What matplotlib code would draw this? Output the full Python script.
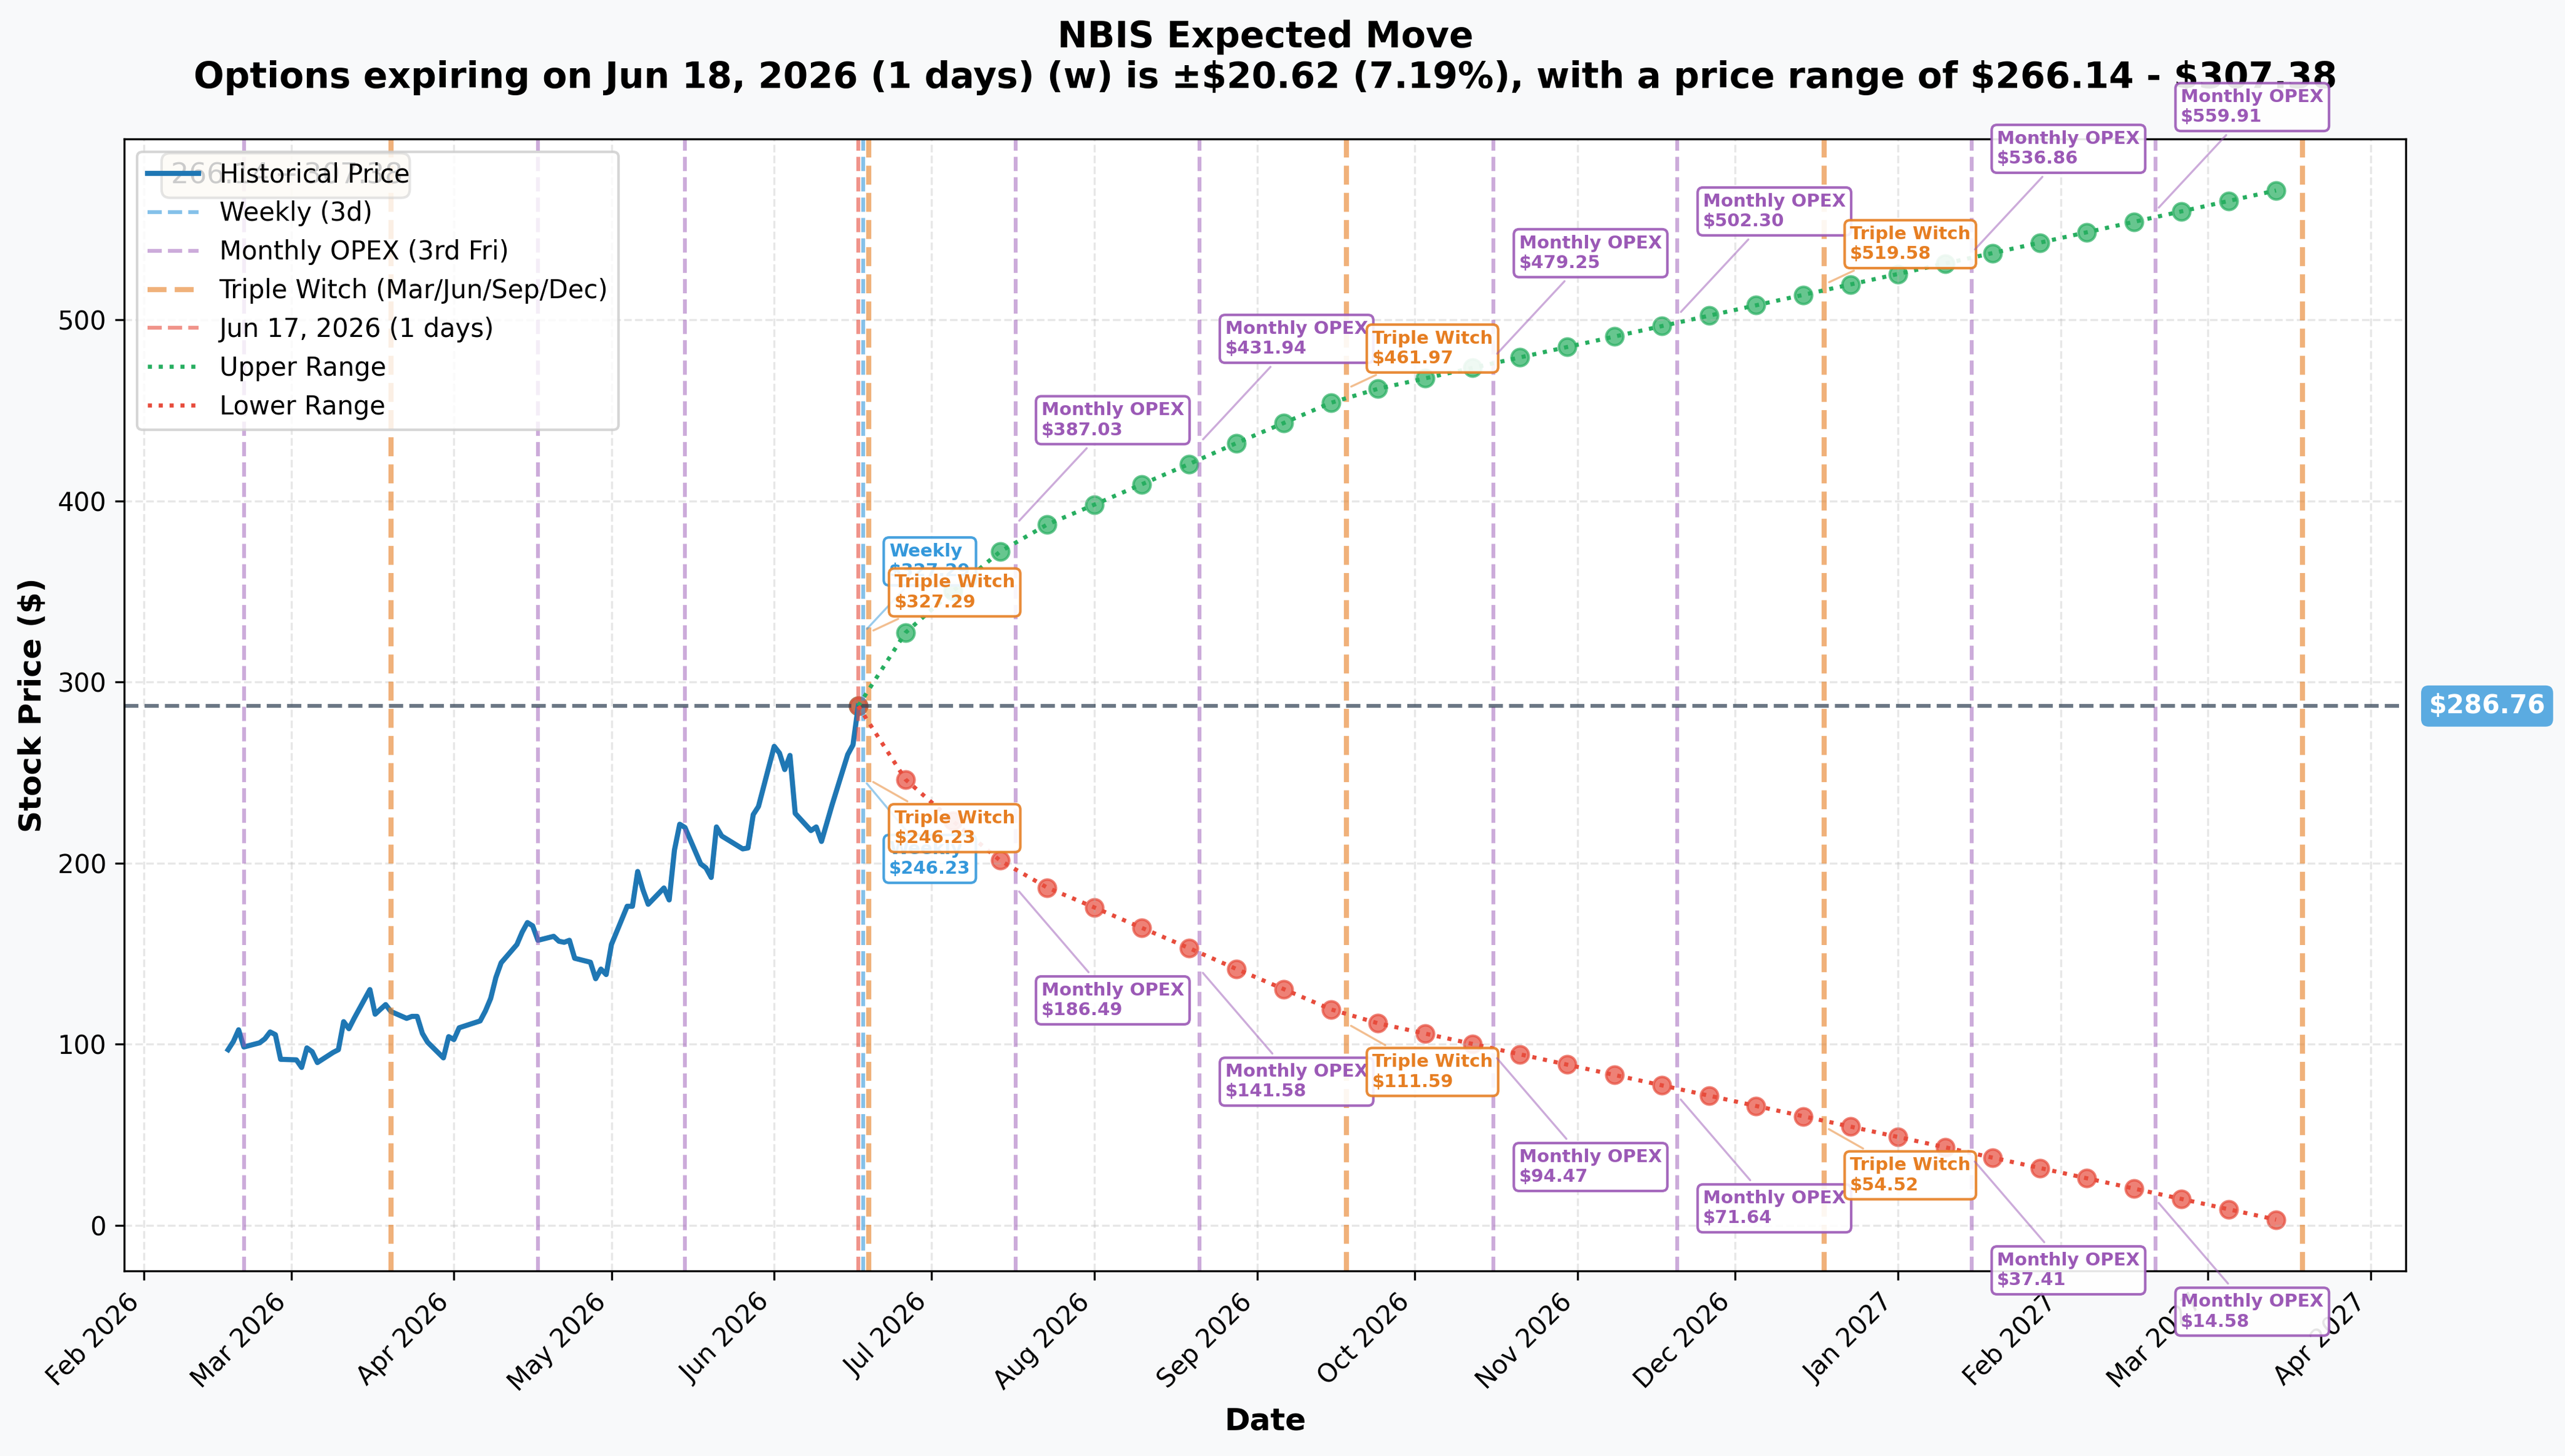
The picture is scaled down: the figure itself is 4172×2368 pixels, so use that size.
import pandas as pd
import matplotlib
matplotlib.use("Agg")
import matplotlib.pyplot as plt
import matplotlib.dates as mdates

TICKER = "NBIS"
CURRENT_PRICE = 286.76
CURRENT_DATE = "2026-06-17"

# ---------------------------------------------------------------------------
# Historical closes (one per trading day, Feb 17 - Jun 17, 2026)
# ---------------------------------------------------------------------------
hist_start, hist_end = "2026-02-17", "2026-06-17"
market_holidays = ["2026-04-03", "2026-05-25"]
hist_close = [
    97.0, 101.5, 108.0, 98.5, 100.8, 103.0, 106.8, 105.3, 91.7,
    91.4, 87.2, 98.0, 95.9, 89.9, 95.5, 97.0, 112.5, 108.6, 114.3, 130.2,
    116.6, 119.3, 121.9, 118.1, 114.3, 115.4, 115.4, 106.0, 101.1, 92.5, 104.2,
    102.6, 109.1, 112.9, 118.4, 125.3, 136.9, 145.0, 155.1, 161.9, 167.2,
    165.4, 157.4, 159.6, 156.9, 156.3, 157.4, 147.5, 145.3, 136.2, 141.5, 138.5,
    155.1, 176.2, 176.2, 195.4, 185.3, 177.3, 186.3, 179.7, 207.2, 221.5,
    219.7, 199.6, 197.4, 192.1, 220.0, 215.0, 207.9, 208.4, 226.8, 231.3,
    264.5, 260.8, 251.7, 259.5, 227.5, 218.0, 220.0, 212.0, 222.0, 232.0,
    260.0, 265.3, 286.76,
]

# ---------------------------------------------------------------------------
# Expected-move projection, every 9 calendar days from today
# ---------------------------------------------------------------------------
proj_step_days = 9
proj_upper = [
    286.76, 327.29, 350.2, 372.0, 387.03, 398.0, 409.2, 420.4, 431.94, 443.0,
    454.2, 461.97, 467.73, 473.49, 479.25, 485.01, 490.77, 496.54, 502.30,
    508.06, 513.82, 519.58, 525.34, 531.10, 536.86, 542.62, 548.38, 554.15,
    559.91, 565.67, 571.43,
]
proj_lower = [
    286.76, 246.23, 223.3, 201.5, 186.49, 175.5, 164.3, 153.1, 141.58, 130.5,
    119.3, 111.59, 105.88, 100.18, 94.47, 88.76, 83.06, 77.35, 71.64,
    65.93, 60.23, 54.52, 48.81, 43.11, 37.41, 31.70, 25.99, 20.29,
    14.58, 8.87, 3.17,
]

# ---------------------------------------------------------------------------
# Expiration calendar
# ---------------------------------------------------------------------------
weekly_dates = ["2026-06-18"]
opex_dates = ["2026-02-20", "2026-04-17", "2026-05-15", "2026-07-17", "2026-08-21",
              "2026-10-16", "2026-11-20", "2027-01-15", "2027-02-19"]
witch_dates = ["2026-03-20", "2026-06-19", "2026-09-18", "2026-12-18", "2027-03-19"]

ann_dates = ["2026-06-18", "2026-06-19", "2026-07-17", "2026-08-21", "2026-09-18",
             "2026-10-16", "2026-11-20", "2026-12-18", "2027-01-15", "2027-02-19"]
ann_kind = ["Weekly", "Triple Witch", "Monthly OPEX", "Monthly OPEX", "Triple Witch",
            "Monthly OPEX", "Monthly OPEX", "Triple Witch", "Monthly OPEX", "Monthly OPEX"]
ann_upper = [327.29, 327.29, 387.03, 431.94, 461.97, 479.25, 502.30, 519.58, 536.86, 559.91]
ann_lower = [246.23, 246.23, 186.49, 141.58, 111.59, 94.47, 71.64, 54.52, 37.41, 14.58]

C_WEEKLY = "#3498db"
C_OPEX = "#9b59b6"
C_WITCH = "#e67e22"
C_NOW = "#e74c3c"
C_UP = "#27ae60"
C_DN = "#e74c3c"

kind_color = {"Weekly": C_WEEKLY, "Monthly OPEX": C_OPEX, "Triple Witch": C_WITCH}
# label box centre offsets (points) above / below the projected value
kind_up = {"Triple Witch": 15.7, "Weekly": 27.8, "Monthly OPEX": 40.7}
kind_dn = {"Triple Witch": -19.0, "Weekly": -31.0, "Monthly OPEX": -44.0}

hist_dates = pd.bdate_range(hist_start, hist_end, freq="C", holidays=market_holidays)
proj_dates = pd.date_range(CURRENT_DATE, periods=len(proj_upper), freq=f"{proj_step_days}D")

# ---------------------------------------------------------------------------
# Plot
# ---------------------------------------------------------------------------
fig, ax = plt.subplots(figsize=(4172 / 300, 2368 / 300), dpi=300)
fig.patch.set_facecolor("#f8f9fa")
ax.set_facecolor("white")
fig.subplots_adjust(left=0.0485, right=0.938, top=0.9045, bottom=0.127)

ax.plot(hist_dates, hist_close, color="#1f77b4", lw=2, label="Historical Price")

for i, d in enumerate(weekly_dates):
    ax.axvline(pd.Timestamp(d), color=C_WEEKLY, ls="--", lw=1.5, alpha=0.6,
               label="Weekly (3d)" if i == 0 else None)
for i, d in enumerate(opex_dates):
    ax.axvline(pd.Timestamp(d), color=C_OPEX, ls="--", lw=1.5, alpha=0.5,
               label="Monthly OPEX (3rd Fri)" if i == 0 else None)
for i, d in enumerate(witch_dates):
    ax.axvline(pd.Timestamp(d), color=C_WITCH, ls="--", lw=2, alpha=0.6,
               label="Triple Witch (Mar/Jun/Sep/Dec)" if i == 0 else None)
ax.axvline(pd.Timestamp(CURRENT_DATE), color=C_NOW, ls="--", lw=1.5, alpha=0.6,
           label="Jun 17, 2026 (1 days)")

ax.axhline(CURRENT_PRICE, color="#2c3e50", ls="--", lw=1.5, alpha=0.7)

ax.scatter(proj_dates, proj_upper, color=C_UP, s=45, alpha=0.7)
ax.scatter(proj_dates, proj_lower, color=C_DN, s=45, alpha=0.7)
ax.plot(proj_dates, proj_upper, ":", color=C_UP, lw=1.6, label="Upper Range")
ax.plot(proj_dates, proj_lower, ":", color=C_DN, lw=1.6, label="Lower Range")

for d, kind, up, dn in zip(ann_dates, ann_kind, ann_upper, ann_lower):
    col = kind_color[kind]
    for val, dy in ((up, kind_up[kind]), (dn, kind_dn[kind])):
        ax.annotate(f"{kind}\n${val:.2f}", xy=(pd.Timestamp(d), val),
                    xytext=(10, dy), textcoords="offset points",
                    ha="left", va="center", fontsize=7, fontweight="bold", color=col,
                    bbox=dict(boxstyle="round,pad=0.3", fc="white", ec=col, lw=1, alpha=0.9),
                    arrowprops=dict(arrowstyle="-", color=col, alpha=0.5, lw=0.8),
                    zorder=5)

# range box (sits under the legend)
ax.text(0.02, 0.98, "$266.14 - $307.38", transform=ax.transAxes, fontsize=11, va="top",
        bbox=dict(boxstyle="round", facecolor="wheat", alpha=0.5))

ax.text(1.01, CURRENT_PRICE, f"${CURRENT_PRICE:.2f}", transform=ax.get_yaxis_transform(),
        ha="left", va="center", fontsize=10, fontweight="bold", color="white",
        bbox=dict(boxstyle="round,pad=0.3", fc=C_WEEKLY, ec="none", alpha=0.8))

ax.set_title(f"{TICKER} Expected Move\nOptions expiring on Jun 18, 2026 (1 days) (w) is "
             f"±$20.62 (7.19%), with a price range of $266.14 - $307.38",
             fontsize=14, fontweight="bold", pad=20)
ax.set_xlabel("Date", fontsize=12, fontweight="bold")
ax.set_ylabel("Stock Price ($)", fontsize=12, fontweight="bold")

ax.xaxis.set_major_locator(mdates.MonthLocator())
ax.xaxis.set_major_formatter(mdates.DateFormatter("%b %Y"))
plt.setp(ax.get_xticklabels(), rotation=45, ha="right")

ax.grid(True, alpha=0.3, ls="--")
ax.legend(loc="upper left", fontsize=10)

fig.savefig("out.png", dpi=300, facecolor=fig.get_facecolor())
